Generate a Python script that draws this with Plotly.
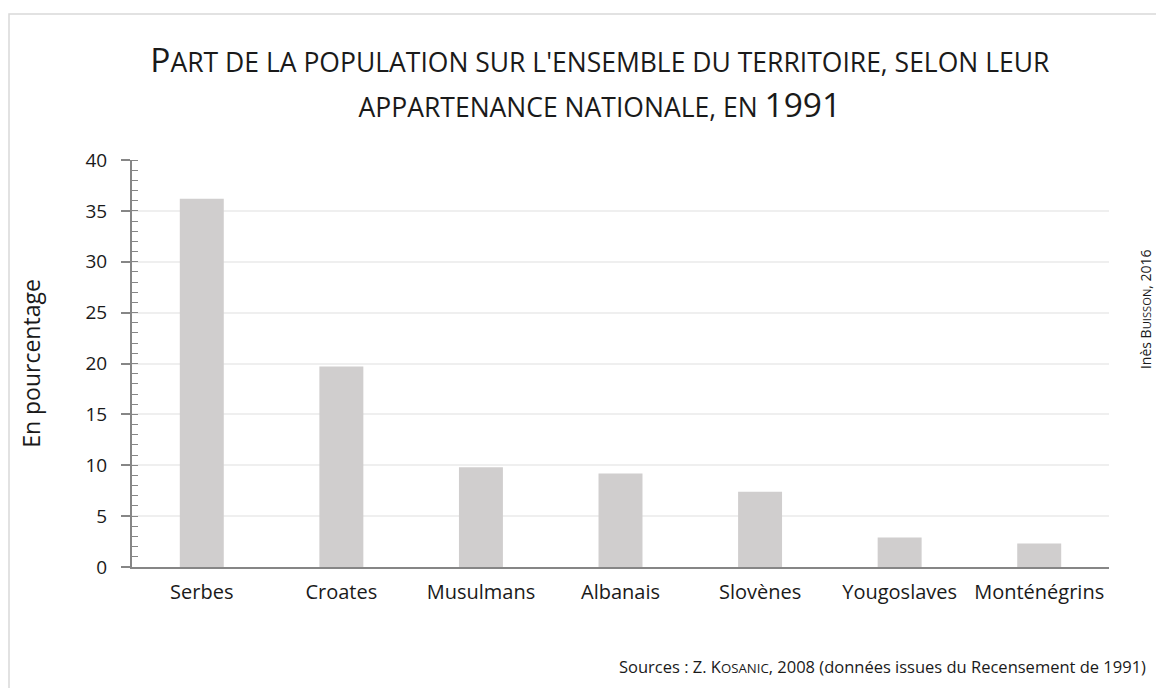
import plotly.graph_objects as go

categories = ["Serbes", "Croates", "Musulmans", "Albanais", "Slovènes", "Yougoslaves", "Monténégrins"]
values = [36.2, 19.7, 9.8, 9.2, 7.4, 2.9, 2.3]
y_ticks = [0, 5, 10, 15, 20, 25, 30, 35, 40]

title_lines = ["Part de la population sur l'ensemble du territoire, selon leur",
               "appartenance nationale, en 1991"]
author_parts = ["Inès ", "Buisson", ", 2016"]
source_parts = ["Sources : Z. ", "Kosanic", ", 2008 (données issues du Recensement de 1991)"]

FONT = "Open Sans"
TXT = "#1a1a1a"
AXIS_COL = "#868686"


def small_caps(s, big, small):
    out, cur, cur_small = [], "", None
    for ch in s:
        is_small = not (ch.isupper() or ch.isdigit())
        if cur_small is None or is_small == cur_small:
            cur += ch
        else:
            out.append((cur, cur_small))
            cur = ch
        cur_small = is_small
    if cur:
        out.append((cur, cur_small))
    html = ""
    for txt, sm in out:
        size = small if sm else big
        html += f"<span style='font-size:{size}px'>{txt.upper()}</span>"
    return html


title_html = "<br>".join(small_caps(l, 33.5, 26.5) for l in title_lines)
author_html = author_parts[0] + small_caps(author_parts[1], 14, 11.2) + author_parts[2]
source_html = source_parts[0] + small_caps(source_parts[1], 16.5, 13.2) + source_parts[2]

fig = go.Figure()
fig.add_trace(go.Bar(
    x=categories, y=values,
    marker=dict(color="#d0cece", line=dict(width=0)),
    hoverinfo="x+y",
))

fig.update_layout(
    width=1156, height=680,
    margin=dict(l=124, r=55, t=152, b=121),
    paper_bgcolor="white", plot_bgcolor="white",
    bargap=0.685,
    showlegend=False,
    font=dict(family=FONT, color=TXT),
    title=dict(
        text=title_html,
        x=0.512, xref="container", xanchor="center",
        y=0.906, yref="container", yanchor="top",
        font=dict(family=FONT, size=35, color=TXT),
    ),
    xaxis=dict(
        showline=True, linecolor=AXIS_COL, linewidth=2,
        ticks="", showgrid=False,
        tickfont=dict(size=20, color=TXT),
        ticklabelstandoff=6,
    ),
    yaxis=dict(
        range=[0, 40], tickvals=y_ticks,
        showline=True, linecolor=AXIS_COL, linewidth=2,
        ticks="outside", ticklen=9, tickcolor=AXIS_COL, tickwidth=1.5,
        showgrid=True, gridcolor="#efefef", gridwidth=1.5,
        zeroline=False,
        tickfont=dict(size=19, color=TXT),
        ticklabelstandoff=10,
        minor=dict(dtick=1, ticks="inside", ticklen=6, tickcolor=AXIS_COL, tickwidth=1.2, showgrid=False),
        title=dict(text="En pourcentage", font=dict(size=23, color=TXT), standoff=38),
    ),
)

fig.add_annotation(
    text=author_html,
    xref="paper", yref="paper", x=1.038, y=0.634,
    xanchor="center", yanchor="middle", textangle=-90,
    showarrow=False, font=dict(family=FONT, size=14, color=TXT),
)

fig.add_annotation(
    text=source_html,
    xref="paper", yref="paper", x=1.04, y=-0.2457,
    xanchor="right", yanchor="middle",
    showarrow=False, font=dict(family=FONT, size=16.5, color=TXT),
)

fig.add_shape(
    type="rect", xref="paper", yref="paper",
    x0=-0.1259, x1=1.07, y0=-0.33, y1=1.3587,
    line=dict(color="#d9d9d9", width=1.5), fillcolor="rgba(0,0,0,0)", layer="below",
)

fig.write_html("out.html")
